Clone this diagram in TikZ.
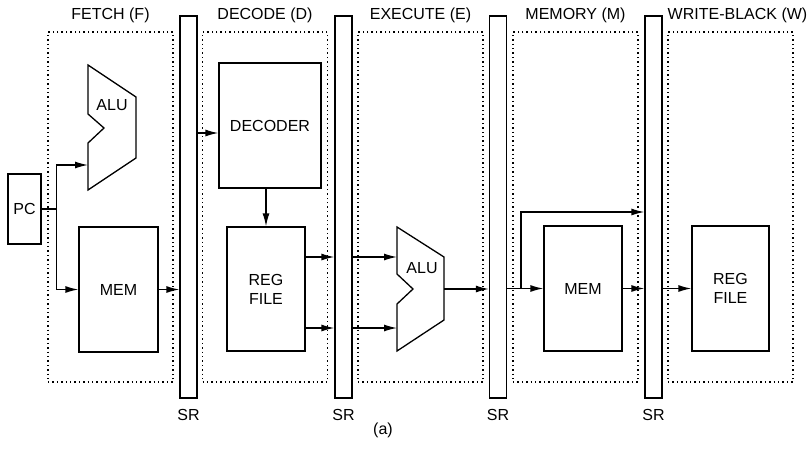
\documentclass[tikz,border=0pt]{standalone}
\usepackage{fontspec}
\setmainfont{Liberation Sans}
\usepackage{tikz}
\usetikzlibrary{arrows.meta,positioning}
\tikzset{
  block/.style={draw,line width=1.3pt,inner sep=0pt,align=center,font=\fontsize{16}{19}\selectfont},
  srbar/.style={draw,line width=1.3pt,fill=white,minimum width=17pt,minimum height=382pt,inner sep=0pt},
  stage/.style={draw,line width=1.4pt,dash pattern=on 1.4pt off 3pt,minimum width=125pt,minimum height=350pt,inner sep=0pt},
  title/.style={inner sep=0pt,font=\fontsize{16}{19}\selectfont},
  alushape/.style={draw,line width=1.3pt,line join=miter},
  wire/.style={line width=1.3pt},
  arrow/.style={-{Latex[length=13pt,width=7pt]},line width=1.3pt}
}

\begin{document}
\begin{tikzpicture}[x=1pt,y=-1pt]
  \useasboundingbox (0,0) rectangle (811,448);

  % pipeline stages
  \node[stage] (fetch) at (110.5,207) {};
  \node[stage] (decode) at (265,207) {};
  \node[stage] (execute) at (420.5,207) {};
  \node[stage] (memory) at (575.5,207) {};
  \node[stage] (writeback) at (730.5,207) {};
  \node[title,above=8pt of fetch] {FETCH (F)};
  \node[title,above=8pt of decode] {DECODE (D)};
  \node[title,above=8pt of execute] {EXECUTE (E)};
  \node[title,above=8pt of memory] {MEMORY (M)};
  \node[title,above=8pt of writeback,xshift=7pt] {WRITE-BLACK (W)};

  % stage registers
  \node[srbar] (sr1) at (188.5,207) {};
  \node[srbar] (sr2) at (343.5,207) {};
  \node[srbar] (sr3) at (498,207) {};
  \node[srbar] (sr4) at (653.5,207) {};
  \node[title,below=10pt of sr1] {SR};
  \node[title,below=10pt of sr2] {SR};
  \node[title,below=10pt of sr3] {SR};
  \node[title,below=10pt of sr4] {SR};

  % blocks
  \node[block,minimum width=33pt,minimum height=70pt] (pc) at (24.5,209) {PC};
  \node[block,minimum width=79pt,minimum height=125pt] (memF) at (118.5,289.5) {MEM};
  \node[block,minimum width=102pt,minimum height=125pt] (decoder) at (270,125.5) {DECODER};
  \node[block,minimum width=78pt,minimum height=124pt] (regD) at (266,289) {REG\\FILE};
  \node[block,minimum width=78pt,minimum height=125pt] (memM) at (583,288.5) {MEM};
  \node[block,minimum width=77pt,minimum height=125pt] (regW) at (730.5,288.5) {REG\\FILE};

  % ALUs
  \draw[alushape] (88,65) -- (136,97) -- (136,158) -- (88,190) -- (88,143) -- (104,128) -- (88,114) -- cycle;
  \node[title] (aluF) at (112,105) {ALU};
  \coordinate (aluFin) at (88,165);
  \draw[alushape] (397,227) -- (444,257) -- (444,320) -- (397,351) -- (397,304) -- (413,289) -- (397,274) -- cycle;
  \node[title] (aluE) at (422,268) {ALU};
  \coordinate (aluEa) at (397,257);
  \coordinate (aluEb) at (397,328);
  \coordinate (aluEout) at (444,289);

  % connections
  \draw[wire] (pc.east) -- ++(15,0) coordinate (split);
  \draw[arrow] (split) |- (aluFin);
  \draw[arrow] (split) |- (memF.west);
  \draw[arrow] (memF.east) -- (sr1.west |- memF.east);
  \coordinate (decin) at ([yshift=-7.5pt]decoder.west);
  \draw[arrow] (sr1.east |- decin) -- (decin);
  \draw[arrow] (decoder.south -| regD.north) -- (regD.north);
  \draw[arrow] (regD.east |- aluEa) -- (sr2.west |- aluEa);
  \draw[arrow] (regD.east |- aluEb) -- (sr2.west |- aluEb);
  \draw[arrow] (sr2.east |- aluEa) -- (aluEa);
  \draw[arrow] (sr2.east |- aluEb) -- (aluEb);
  \draw[arrow] (aluEout) -- (sr3.west |- aluEout);
  \draw[arrow] (sr3.east |- memM.west) -- (memM.west);
  \coordinate (split2) at (521,288.5);
  \draw[arrow] (split2) |- (sr4.west |- 0,212);
  \draw[arrow] (memM.east) -- (sr4.west |- memM.east);
  \draw[arrow] (sr4.east |- regW.west) -- (regW.west);

  \node[title] (caption) at (383,430) {(a)};
\end{tikzpicture}
\end{document}
